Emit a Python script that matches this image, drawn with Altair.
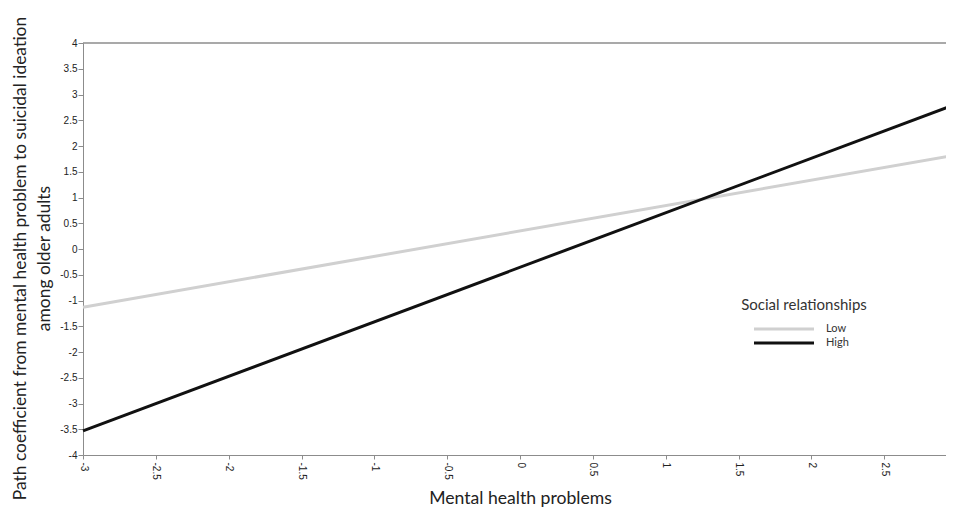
import altair as alt
import pandas as pd

groups = ["Low", "Low", "High", "High"]
x_vals = [-3, 3, -3, 3]
y_vals = [-1.13, 1.83, -3.53, 2.82]
x_ticks = [-3, -2.5, -2, -1.5, -1, -0.5, 0, 0.5, 1, 1.5, 2, 2.5, 3]
y_ticks = [-4, -3.5, -3, -2.5, -2, -1.5, -1, -0.5, 0, 0.5, 1, 1.5, 2, 2.5, 3, 3.5, 4]
legend_title = "Social relationships"
legend_groups = ["Low", "High"]
legend_colors = ["#d0d0d0", "#111111"]

df = pd.DataFrame({"group": groups, "x": x_vals, "y": y_vals})

AX = "#8c8c8c"
FONT = "Lato"

xs = alt.Scale(domain=[-3, 3], nice=False, zero=False)
ys = alt.Scale(domain=[-4, 4], nice=False, zero=False)
cs = alt.Scale(domain=legend_groups, range=legend_colors)

y_axis = alt.Axis(title=["Path coefficient from mental health problem to suicidal ideation",
                         "among older adults"],
                  values=y_ticks, labelExpr="'' + datum.value",
                  labelOverlap=False,
                  grid=False, domainColor=AX, tickColor=AX, tickSize=5,
                  labelFont="Liberation Sans", labelFontSize=10,
                  labelColor="#222", labelPadding=1,
                  titleFont=FONT, titleFontSize=17.4, titleFontWeight="normal",
                  titleColor="#222", titlePadding=6, titleLineHeight=24,
                  titleY=215)

lines = alt.Chart(df).mark_line(strokeWidth=3, clip=False).encode(
    x=alt.X("x:Q", scale=xs,
            axis=alt.Axis(title="Mental health problems", values=x_ticks,
                          labelExpr="'' + datum.value", labelAngle=90,
                          labelOverlap=False,
                          grid=False, domainColor=AX, tickColor=AX, tickSize=4,
                          labelFont="Liberation Sans", labelFontSize=10,
                          labelColor="#222", labelPadding=3,
                          titleFont=FONT, titleFontSize=17.6, titleFontWeight="normal",
                          titleColor="#222", titlePadding=10)),
    y=alt.Y("y:Q", scale=ys, axis=y_axis),
    color=alt.Color("group:N", scale=cs, legend=None),
)

top = alt.Chart(pd.DataFrame({"y": [4]})).mark_rule(color=AX, strokeWidth=1.5).encode(
    y=alt.Y("y:Q", scale=ys, axis=y_axis)
)

# manual legend
leg_title = alt.Chart(pd.DataFrame({"t": [legend_title]})).mark_text(
    font=FONT, fontSize=15, color="#333", align="center", baseline="middle"
).encode(x=alt.value(721), y=alt.value(262), text="t:N")

leg_layers = []
for i, g in enumerate(legend_groups):
    d = pd.DataFrame({"group": [g]})
    leg_layers.append(alt.Chart(d).mark_rule(strokeWidth=3).encode(
        x=alt.value(671), x2=alt.value(731), y=alt.value(286 + 14 * i),
        color=alt.Color("group:N", scale=cs, legend=None)))
    leg_layers.append(alt.Chart(d).mark_text(
        font=FONT, fontSize=11, color="#333", align="left", baseline="middle"
    ).encode(x=alt.value(743), y=alt.value(286 + 14 * i), text="group:N"))

chart = alt.layer(lines, top, leg_title, *leg_layers).properties(
    width=874, height=412,
    autosize=alt.AutoSizeParams(type="none"),
    padding={"left": 75, "top": 35, "right": -11, "bottom": 56},
).configure_view(stroke=None)

chart.save("out.html", embed_options={"renderer": "svg", "actions": False})
